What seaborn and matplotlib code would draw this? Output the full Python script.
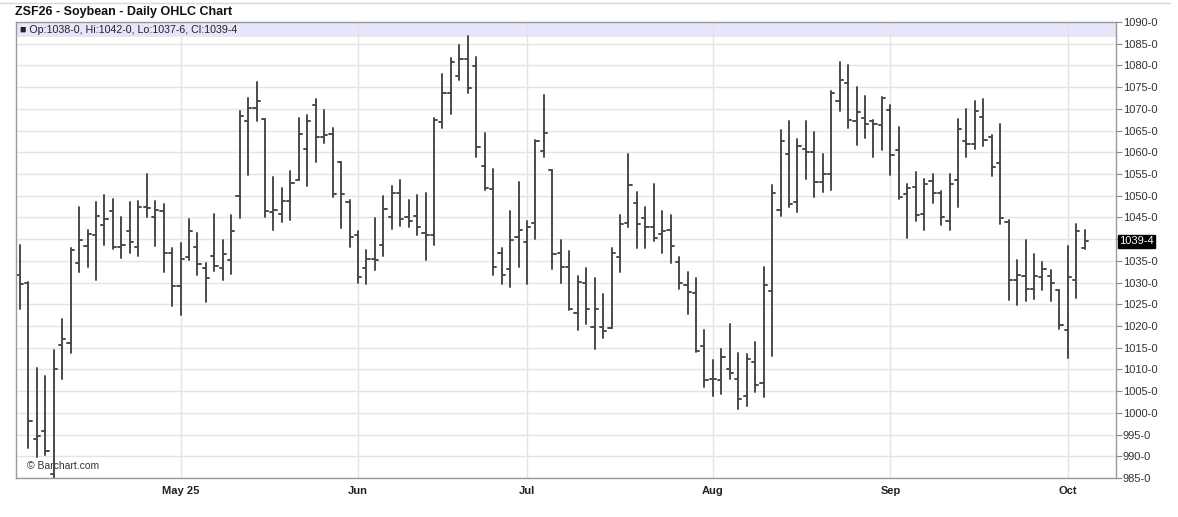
import numpy as np
import pandas as pd
import matplotlib
matplotlib.use("Agg")
import matplotlib.pyplot as plt
import matplotlib.transforms as mtransforms
import seaborn as sns

# daily bars, Apr 3 2025 - Oct 3 2025 (trading days only)
holidays = ["2025-04-18", "2025-05-26", "2025-06-19", "2025-07-04", "2025-09-01"]
dates = pd.bdate_range("2025-04-03", "2025-10-03", freq="C", holidays=holidays)

opens = [1031.8, 1030.0, 994.0, 995.8, 986.0, 1015.6, 1016.2, 1034.4, 1038.4, 1040.9,
         1043.3, 1046.4, 1038.2, 1041.8, 1038.2, 1047.3, 1045.1, 1046.4, 1036.8, 1029.3,
         1035.9, 1038.2, 1033.3, 1036.1, 1033.3, 1035.3, 1049.9, 1067.3, 1070.1, 1067.6,
         1046.3, 1045.7, 1048.8, 1053.6, 1060.7, 1070.9, 1063.6, 1064.2, 1057.7, 1048.6,
         1040.9, 1033.3, 1035.4, 1038.7, 1045.0, 1050.6, 1045.0, 1045.4, 1041.4, 1041.0,
         1067.0, 1073.6, 1077.6, 1081.5, 1079.8, 1056.8, 1051.5, 1036.8, 1033.1, 1040.4,
         1039.3, 1043.7, 1060.2, 1055.9, 1036.7, 1033.5, 1022.9, 1029.8, 1019.7, 1019.7,
         1019.5, 1035.8, 1043.8, 1048.4, 1044.8, 1042.9, 1041.1, 1042.1, 1034.8, 1029.5,
         1027.7, 1015.3, 1007.7, 1007.6, 1010.1, 1007.9, 1003.8, 1011.8, 1006.9, 1028.0,
         1046.8, 1059.6, 1048.5, 1060.8, 1060.0, 1053.1, 1055.1, 1071.9, 1075.9, 1067.1,
         1068.0, 1067.1, 1066.2, 1069.8, 1060.6, 1050.4, 1052.1, 1045.8, 1053.3, 1050.6,
         1044.1, 1053.7, 1062.6, 1061.9, 1068.2, 1063.6, 1057.6, 1043.9, 1030.5, 1031.4,
         1028.6, 1031.2, 1031.4, 1028.3, 1019.0, 1030.5, 1038.0]
highs = [1038.7, 1030.2, 1010.4, 1008.4, 1014.4, 1021.7, 1038.0, 1047.4, 1042.2, 1048.6,
         1050.1, 1049.2, 1045.1, 1048.6, 1048.8, 1054.9, 1048.7, 1048.0, 1038.0, 1039.2,
         1044.6, 1041.3, 1034.4, 1045.7, 1039.8, 1045.5, 1069.6, 1072.4, 1076.1, 1067.6,
         1054.2, 1051.7, 1055.7, 1068.0, 1068.6, 1072.2, 1069.7, 1065.7, 1057.7, 1049.1,
         1041.9, 1037.6, 1044.9, 1050.0, 1052.2, 1053.7, 1049.1, 1050.2, 1050.6, 1068.0,
         1078.1, 1081.7, 1084.6, 1086.7, 1081.9, 1064.4, 1056.1, 1038.0, 1046.5, 1053.2,
         1044.1, 1062.9, 1073.1, 1055.9, 1039.8, 1037.3, 1031.5, 1033.3, 1031.0, 1027.3,
         1038.0, 1045.6, 1059.5, 1050.9, 1047.5, 1052.6, 1046.5, 1045.6, 1035.8, 1032.4,
         1031.0, 1019.1, 1012.2, 1014.6, 1020.5, 1013.8, 1013.6, 1016.3, 1033.6, 1052.5,
         1065.2, 1067.3, 1063.0, 1067.3, 1064.6, 1059.6, 1074.2, 1080.9, 1080.2, 1075.0,
         1072.9, 1067.5, 1072.7, 1070.9, 1065.8, 1052.7, 1055.4, 1053.9, 1055.0, 1051.2,
         1055.0, 1067.7, 1070.0, 1071.8, 1072.3, 1063.9, 1066.5, 1044.3, 1035.3, 1039.9,
         1036.5, 1034.7, 1032.8, 1028.3, 1038.4, 1043.5, 1042.0]
lows = [1023.8, 991.8, 989.9, 990.2, 985.0, 1007.7, 1013.8, 1032.4, 1033.5, 1030.5,
        1038.6, 1037.7, 1035.7, 1036.8, 1036.1, 1045.1, 1038.4, 1032.5, 1024.6, 1022.5,
        1035.1, 1031.7, 1025.6, 1032.7, 1030.6, 1032.0, 1044.9, 1054.8, 1067.2, 1045.0,
        1042.2, 1043.9, 1044.5, 1053.6, 1052.2, 1057.7, 1062.2, 1049.8, 1042.6, 1038.2,
        1029.8, 1029.6, 1032.8, 1036.2, 1042.3, 1043.1, 1042.9, 1040.9, 1035.3, 1038.7,
        1065.6, 1068.8, 1076.7, 1073.6, 1058.8, 1051.4, 1031.8, 1029.7, 1029.0, 1033.7,
        1029.7, 1040.1, 1058.8, 1033.1, 1029.8, 1023.7, 1019.1, 1020.4, 1014.7, 1017.2,
        1019.5, 1032.5, 1042.9, 1038.0, 1037.9, 1039.6, 1036.9, 1034.6, 1028.5, 1022.8,
        1014.1, 1005.9, 1003.9, 1004.4, 1007.8, 1000.9, 1001.6, 1004.9, 1003.6, 1013.2,
        1045.4, 1047.4, 1046.2, 1053.8, 1049.8, 1050.8, 1051.4, 1069.4, 1065.6, 1061.6,
        1063.3, 1058.8, 1060.6, 1054.7, 1049.2, 1040.2, 1044.1, 1042.0, 1048.3, 1043.3,
        1042.2, 1047.4, 1058.9, 1060.8, 1061.4, 1054.5, 1043.5, 1026.1, 1024.9, 1025.7,
        1026.3, 1028.3, 1025.7, 1019.2, 1012.6, 1026.5, 1037.75]
closes = [1029.6, 998.1, 994.6, 991.2, 1010.2, 1017.1, 1037.6, 1039.7, 1041.1, 1045.3,
          1044.6, 1038.1, 1038.6, 1039.4, 1047.3, 1047.2, 1046.8, 1036.9, 1029.3, 1035.5,
          1041.8, 1034.3, 1031.1, 1033.8, 1036.6, 1041.9, 1068.4, 1070.1, 1071.9, 1046.5,
          1046.8, 1048.8, 1053.0, 1064.3, 1067.3, 1063.6, 1064.0, 1050.5, 1050.5, 1040.6,
          1031.3, 1035.5, 1035.3, 1046.9, 1050.6, 1044.7, 1044.1, 1042.8, 1041.0, 1067.5,
          1073.6, 1080.7, 1081.5, 1074.9, 1061.2, 1051.8, 1033.6, 1031.8, 1039.7, 1042.2,
          1042.9, 1062.7, 1064.4, 1036.6, 1033.7, 1023.9, 1030.2, 1023.9, 1023.9, 1018.9,
          1036.7, 1043.5, 1052.5, 1043.5, 1042.9, 1040.2, 1041.9, 1038.5, 1029.8, 1027.9,
          1014.3, 1007.6, 1007.7, 1012.8, 1009.2, 1003.3, 1012.4, 1006.3, 1029.5, 1050.6,
          1062.7, 1048.1, 1061.4, 1060.0, 1053.1, 1055.1, 1073.6, 1076.7, 1067.5, 1069.2,
          1066.6, 1066.6, 1072.4, 1059.3, 1049.8, 1051.7, 1045.6, 1052.7, 1050.6, 1045.1,
          1052.6, 1065.4, 1061.9, 1069.4, 1062.9, 1056.7, 1044.9, 1030.5, 1031.8, 1028.6,
          1031.4, 1033.2, 1029.9, 1020.3, 1031.2, 1041.8, 1039.5]

month_labels = ["May 25", "Jun", "Jul", "Aug", "Sep", "Oct"]
price_ticks = list(range(985, 1091, 5))

df = pd.DataFrame({"date": dates, "open": opens, "high": highs,
                   "low": lows, "close": closes})
df["x"] = np.arange(len(df))

# each bar -> three little segments (high-low, open tick, close tick)
w = 0.38
segs = []
for i, r in df.iterrows():
    segs += [(3 * i, r.x, r.low), (3 * i, r.x, r.high)]
    segs += [(3 * i + 1, r.x - w, r.open), (3 * i + 1, r.x, r.open)]
    segs += [(3 * i + 2, r.x, r.close), (3 * i + 2, r.x + w, r.close)]
seg = pd.DataFrame(segs, columns=["seg", "x", "price"])

sns.set_style("white")
plt.rcParams["font.family"] = ["Liberation Sans", "DejaVu Sans"]

fig = plt.figure(figsize=(11.78, 5.17), dpi=100)
ax = fig.add_axes([16 / 1178, 39 / 517, 1100 / 1178, 456 / 517])

sns.lineplot(data=seg, x="x", y="price", units="seg", estimator=None, sort=False,
             color="#4a4a4a", lw=1.4, legend=False, ax=ax)

# month ticks at first trading day of each month
first_days = df.groupby(df.date.dt.to_period("M")).x.first().iloc[1:]
ax.set_xticks(first_days.values)
ax.set_xticklabels(month_labels, fontweight="bold", fontsize=8, color="#222222")
ax.set_xlim(-0.47, 129.7)
ax.set_ylim(985, 1090)
ax.set_xlabel("")
ax.set_ylabel("")

ax.yaxis.tick_right()
ax.set_yticks(price_ticks)
ax.set_yticklabels(["" if p == 1040 else f"{p}-0" for p in price_ticks],
                   fontsize=8, color="#333333")
ax.tick_params(axis="y", length=4, width=0.8, color="#888888", pad=1)
ax.tick_params(axis="x", length=3, width=0.8, color="#888888", pad=3)
ax.grid(True, color="#e4e4e4", lw=1)
ax.set_axisbelow(True)
for s in ax.spines.values():
    s.set_color("#9a9a9a")
    s.set_linewidth(1)

# header strip with last bar values
ax.axhspan(1086.6, 1090, color="#e6e6fa", zorder=0.5, lw=0)
ax.text(0.004, 0.983, "\u25a0 Op:1038-0, Hi:1042-0, Lo:1037-6, Cl:1039-4",
        transform=ax.transAxes, fontsize=7.7, va="center", color="#222222")

# last price box on the price axis
trans = mtransforms.blended_transform_factory(ax.transAxes, ax.transData)
ax.text(1.003, closes[-1], "1039-4", transform=trans, fontsize=8, color="white",
        va="center", ha="left",
        bbox=dict(boxstyle="square,pad=0.12", fc="black", ec="black"))

ax.text(0.01, 0.026, "\u00a9 Barchart.com", transform=ax.transAxes, fontsize=7.5,
        color="#333333", va="center")

fig.text(15 / 1178, 1 - 12 / 517, "ZSF26 - Soybean - Daily OHLC Chart",
         fontsize=9, fontweight="bold", va="center", color="#111111")

# thin container border at the top, as on the site
fig.add_artist(plt.Line2D([0, 1170 / 1178], [1 - 3 / 517, 1 - 3 / 517],
                          color="#d8d8d8", lw=1))

fig.savefig("out.png", dpi=100)
